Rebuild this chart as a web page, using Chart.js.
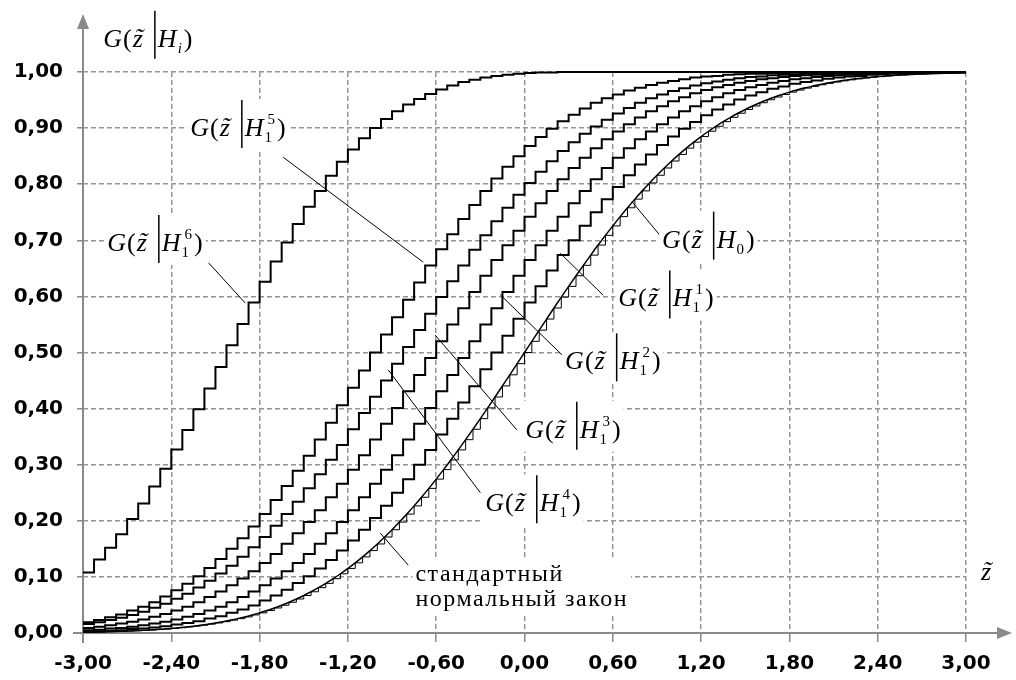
<!DOCTYPE html>
<html>
<head>
<meta charset="utf-8">
<script src="https://cdn.jsdelivr.net/npm/chart.js@4.4.1/dist/chart.umd.min.js"></script>
<style>
  html, body { margin: 0; padding: 0; background: #fff; }
  #wrap { width: 1016px; height: 680px; }
</style>
</head>
<body>
<div id="wrap"><canvas id="chart"></canvas></div>
<script>
// tick values of both axes
const xTicks = [-3, -2.4, -1.8, -1.2, -0.6, 0, 0.6, 1.2, 1.8, 2.4, 3];
const yTicks = [0, 0.1, 0.2, 0.3, 0.4, 0.5, 0.6, 0.7, 0.8, 0.9, 1];

// x positions of the steps of the H1 curves
const zSteps = [
  -3, -2.925, -2.85, -2.775, -2.7, -2.625, -2.55, -2.475, -2.4, -2.325,
  -2.25, -2.175, -2.1, -2.025, -1.95, -1.875, -1.8, -1.725, -1.65, -1.575,
  -1.5, -1.425, -1.35, -1.275, -1.2, -1.125, -1.05, -0.975, -0.9, -0.825,
  -0.75, -0.675, -0.6, -0.525, -0.45, -0.375, -0.3, -0.225, -0.15, -0.075,
  0, 0.075, 0.15, 0.225, 0.3, 0.375, 0.45, 0.525, 0.6, 0.675,
  0.75, 0.825, 0.9, 0.975, 1.05, 1.125, 1.2, 1.275, 1.35, 1.425,
  1.5, 1.575, 1.65, 1.725, 1.8, 1.875, 1.95, 2.025, 2.1, 2.175,
  2.25, 2.325, 2.4, 2.475, 2.55, 2.625, 2.7, 2.775, 2.85, 2.925,
  3
];

// x positions for the standard normal law and the H0 steps
const zFine = [
  -3, -2.95, -2.9, -2.85, -2.8, -2.75, -2.7, -2.65, -2.6, -2.55,
  -2.5, -2.45, -2.4, -2.35, -2.3, -2.25, -2.2, -2.15, -2.1, -2.05,
  -2, -1.95, -1.9, -1.85, -1.8, -1.75, -1.7, -1.65, -1.6, -1.55,
  -1.5, -1.45, -1.4, -1.35, -1.3, -1.25, -1.2, -1.15, -1.1, -1.05,
  -1, -0.95, -0.9, -0.85, -0.8, -0.75, -0.7, -0.65, -0.6, -0.55,
  -0.5, -0.45, -0.4, -0.35, -0.3, -0.25, -0.2, -0.15, -0.1, -0.05,
  0, 0.05, 0.1, 0.15, 0.2, 0.25, 0.3, 0.35, 0.4, 0.45,
  0.5, 0.55, 0.6, 0.65, 0.7, 0.75, 0.8, 0.85, 0.9, 0.95,
  1, 1.05, 1.1, 1.15, 1.2, 1.25, 1.3, 1.35, 1.4, 1.45,
  1.5, 1.55, 1.6, 1.65, 1.7, 1.75, 1.8, 1.85, 1.9, 1.95,
  2, 2.05, 2.1, 2.15, 2.2, 2.25, 2.3, 2.35, 2.4, 2.45,
  2.5, 2.55, 2.6, 2.65, 2.7, 2.75, 2.8, 2.85, 2.9, 2.95,
  3
];

// standard normal law (also the H0 staircase)
const normalCdf = [
  .0013, .0016, .0019, .0022, .0026, .0030, .0035, .0040, .0047, .0054,
  .0062, .0071, .0082, .0094, .0107, .0122, .0139, .0158, .0179, .0202,
  .0228, .0256, .0287, .0322, .0359, .0401, .0446, .0495, .0548, .0606,
  .0668, .0735, .0808, .0885, .0968, .1056, .1151, .1251, .1357, .1469,
  .1587, .1711, .1841, .1977, .2119, .2266, .2420, .2578, .2743, .2912,
  .3085, .3264, .3446, .3632, .3821, .4013, .4207, .4404, .4602, .4801,
  .5000, .5199, .5398, .5596, .5793, .5987, .6179, .6368, .6554, .6736,
  .6915, .7088, .7257, .7422, .7580, .7734, .7881, .8023, .8159, .8289,
  .8413, .8531, .8643, .8749, .8849, .8944, .9032, .9115, .9192, .9265,
  .9332, .9394, .9452, .9505, .9554, .9599, .9641, .9678, .9713, .9744,
  .9772, .9798, .9821, .9842, .9861, .9878, .9893, .9906, .9918, .9929,
  .9938, .9946, .9953, .9960, .9965, .9970, .9974, .9978, .9981, .9984,
  .9987
];

const gH1_1 = [
  .003, .003, .004, .005, .007, .008, .010, .012, .015, .018,
  .021, .026, .030, .036, .042, .049, .058, .067, .077, .089,
  .101, .115, .130, .147, .165, .184, .205, .227, .250, .274,
  .300, .326, .354, .382, .411, .440, .470, .500, .530, .560,
  .589, .618, .646, .674, .700, .726, .750, .773, .795, .816,
  .835, .853, .870, .885, .899, .911, .923, .933, .942, .951,
  .958, .964, .970, .974, .979, .982, .985, .988, .990, .992,
  .993, .995, .996, .997, .997, .998, .998, .999, .999, .999,
  .999
];

const gH1_2 = [
  .005, .006, .008, .009, .011, .014, .017, .020, .024, .029,
  .034, .040, .047, .055, .064, .074, .085, .097, .110, .125,
  .141, .159, .178, .198, .219, .242, .266, .291, .317, .345,
  .373, .401, .431, .460, .490, .520, .550, .579, .608, .637,
  .665, .691, .717, .742, .766, .788, .809, .829, .847, .864,
  .880, .894, .907, .919, .930, .939, .948, .955, .962, .968,
  .973, .977, .981, .984, .987, .989, .991, .993, .994, .995,
  .996, .997, .998, .998, .999, .999, .999, .999, .999, 1,
  1
];

const gH1_3 = [
  .009, .011, .014, .017, .020, .024, .029, .034, .040, .047,
  .055, .064, .074, .085, .097, .110, .125, .141, .159, .178,
  .198, .219, .242, .266, .291, .317, .345, .373, .401, .431,
  .460, .490, .520, .550, .579, .608, .637, .665, .691, .717,
  .742, .766, .788, .809, .829, .847, .864, .880, .894, .907,
  .919, .930, .939, .948, .955, .962, .968, .973, .977, .981,
  .984, .987, .989, .991, .993, .994, .995, .996, .997, .998,
  .998, .999, .999, .999, .999, .999, 1, 1, 1, 1,
  1
];

const gH1_4 = [
  .016, .019, .023, .027, .032, .038, .045, .052, .061, .070,
  .081, .093, .106, .120, .136, .153, .171, .191, .212, .234,
  .258, .283, .309, .335, .363, .392, .421, .450, .480, .510,
  .540, .569, .599, .627, .655, .683, .709, .734, .758, .781,
  .802, .822, .841, .859, .875, .890, .903, .915, .926, .936,
  .945, .953, .960, .966, .971, .976, .980, .983, .986, .989,
  .991, .992, .994, .995, .996, .997, .997, .998, .998, .999,
  .999, .999, .999, 1, 1, 1, 1, 1, 1, 1,
  1
];

const gH1_5 = [
  .019, .023, .028, .033, .040, .047, .055, .065, .076, .088,
  .101, .116, .132, .150, .169, .190, .212, .237, .262, .289,
  .316, .345, .375, .406, .437, .468, .500, .532, .563, .594,
  .625, .655, .684, .711, .738, .763, .788, .810, .831, .850,
  .868, .884, .899, .912, .924, .935, .945, .953, .960, .967,
  .972, .977, .981, .984, .987, .990, .992, .993, .995, .996,
  .997, .997, .998, .998, .999, .999, .999, .999, 1, 1,
  1, 1, 1, 1, 1, 1, 1, 1, 1, 1,
  1
];

const gH1_6 = [
  .108, .131, .152, .176, .203, .231, .261, .293, .327, .362,
  .399, .436, .474, .513, .551, .589, .626, .662, .696, .729,
  .760, .788, .815, .840, .862, .882, .900, .916, .930, .942,
  .952, .961, .969, .976, .982, .986, .990, .993, .995, .997,
  .998, .999, .999, 1, 1, 1, 1, 1, 1, 1,
  1, 1, 1, 1, 1, 1, 1, 1, 1, 1,
  1, 1, 1, 1, 1, 1, 1, 1, 1, 1,
  1, 1, 1, 1, 1, 1, 1, 1, 1, 1,
  1
];

// curve labels: anchor (left edge, baseline) in axis units
const curveLabels = [
  { x: -2.862, y: 1.045, sub: 'i', italicSub: true, bg: false },
  { x: -2.271, y: 0.886, sub: '1', sup: '5', bg: true },
  { x: -2.835, y: 0.681, sub: '1', sup: '6', bg: true },
  { x: 0.935, y: 0.687, sub: '0', bg: true },
  { x: 0.637, y: 0.582, sub: '1', sup: '1', bg: true },
  { x: 0.276, y: 0.470, sub: '1', sup: '2', bg: true },
  { x: 0.005, y: 0.348, sub: '1', sup: '3', bg: true },
  { x: -0.267, y: 0.217, sub: '1', sup: '4', bg: true }
];

// leader lines from labels to curves, in axis units
const leaders = [
  [-1.639, 0.848, -0.688, 0.661],
  [-2.147, 0.660, -1.897, 0.588],
  [0.920, 0.709, 0.730, 0.769],
  [0.535, 0.602, 0.243, 0.677],
  [0.254, 0.496, -0.165, 0.603],
  [-0.052, 0.362, -0.607, 0.531],
  [-0.300, 0.250, -0.926, 0.469],
  [-0.790, 0.121, -0.980, 0.178]
];

const normalText = ['стандартный', 'нормальный закон'];

const SERIF = '"Liberation Serif", "Times New Roman", serif';
const AXIS = '#8a8a8a';
const GRID = '#959595';
const FS = 26;
const FS_SMALL = 15;

function pts(xs, ys) {
  return ys.map((y, i) => ({ x: xs[i], y: y }));
}

function fmt(v) {
  return Number(v).toFixed(2).replace('.', ',');
}

function drawG(ctx, x, base, lab) {
  const it = 'italic ' + FS + 'px ' + SERIF;
  const up = FS + 'px ' + SERIF;
  const sm = (lab.italicSub ? 'italic ' : '') + FS_SMALL + 'px ' + SERIF;
  const smUp = FS_SMALL + 'px ' + SERIF;
  ctx.font = it;
  const wG = ctx.measureText('G').width;
  const wz = ctx.measureText('z').width;
  const wH = ctx.measureText('H').width;
  const wt = ctx.measureText('˜').width;
  ctx.font = up;
  const wp = ctx.measureText('(').width;
  ctx.font = sm;
  const wsub = ctx.measureText(lab.sub).width;
  ctx.font = smUp;
  const wsup = lab.sup ? ctx.measureText(lab.sup).width : 0;

  const xParen = x + wG + 1;
  const xz = xParen + wp + 1;
  const xBar = xz + wz + 12;
  const xH = xBar + 3;
  const xSub = xH + wH + 1;
  const xSup = xSub + 3;
  const xClose = Math.max(xSub + wsub, xSup + wsup) + 2;
  const xEnd = xClose + wp;

  if (lab.bg) {
    ctx.fillStyle = '#fff';
    ctx.fillRect(x - 3, base - 37, xEnd - x + 6, 51);
  }
  ctx.fillStyle = '#000';
  ctx.textAlign = 'left';
  ctx.textBaseline = 'alphabetic';
  ctx.font = it;
  ctx.fillText('G', x, base);
  ctx.fillText('z', xz, base);
  ctx.fillText('˜', xz + (wz - wt) / 2 + 1, base - 1);
  ctx.fillText('H', xH, base);
  ctx.font = up;
  ctx.fillText('(', xParen, base);
  ctx.fillText(')', xClose, base);
  ctx.font = sm;
  ctx.fillText(lab.sub, xSub, base + 6);
  if (lab.sup) {
    ctx.font = smUp;
    ctx.fillText(lab.sup, xSup, base - 12);
  }
  ctx.beginPath();
  ctx.moveTo(xBar, base - 36);
  ctx.lineTo(xBar, base + 12);
  ctx.lineWidth = 1.5;
  ctx.strokeStyle = '#000';
  ctx.stroke();
}

const decor = {
  id: 'decor',
  beforeDatasetsDraw(chart) {
    const ctx = chart.ctx;
    const a = chart.chartArea;
    ctx.save();
    ctx.strokeStyle = AXIS;
    ctx.fillStyle = AXIS;
    ctx.lineWidth = 2;
    // y axis with arrow
    ctx.beginPath();
    ctx.moveTo(a.left, a.bottom + 10);
    ctx.lineTo(a.left, 26);
    ctx.stroke();
    ctx.beginPath();
    ctx.moveTo(a.left, 14);
    ctx.lineTo(a.left - 6, 29);
    ctx.lineTo(a.left + 6, 29);
    ctx.closePath();
    ctx.fill();
    // x axis with arrow
    ctx.beginPath();
    ctx.moveTo(a.left - 10, a.bottom);
    ctx.lineTo(1000, a.bottom);
    ctx.stroke();
    ctx.beginPath();
    ctx.moveTo(1012, a.bottom);
    ctx.lineTo(997, a.bottom - 6);
    ctx.lineTo(997, a.bottom + 6);
    ctx.closePath();
    ctx.fill();
    ctx.restore();
  },
  afterDatasetsDraw(chart) {
    const ctx = chart.ctx;
    const sx = chart.scales.x;
    const sy = chart.scales.y;
    ctx.save();
    // leader lines
    ctx.strokeStyle = '#000';
    ctx.lineWidth = 1;
    leaders.forEach(l => {
      ctx.beginPath();
      ctx.moveTo(sx.getPixelForValue(l[0]), sy.getPixelForValue(l[1]));
      ctx.lineTo(sx.getPixelForValue(l[2]), sy.getPixelForValue(l[3]));
      ctx.stroke();
    });
    // G(z|H) labels
    curveLabels.forEach(lab => {
      drawG(ctx, sx.getPixelForValue(lab.x), sy.getPixelForValue(lab.y), lab);
    });
    // text for the standard normal law
    const tx = sx.getPixelForValue(-0.741);
    const b1 = sy.getPixelForValue(0.093);
    const b2 = sy.getPixelForValue(0.048);
    ctx.font = '24px ' + SERIF;
    ctx.letterSpacing = '1.5px';
    const w = Math.max(ctx.measureText(normalText[0]).width, ctx.measureText(normalText[1]).width);
    ctx.fillStyle = '#fff';
    ctx.fillRect(tx - 3, b1 - 21, w + 6, b2 - b1 + 28);
    ctx.fillStyle = '#000';
    ctx.textAlign = 'left';
    ctx.textBaseline = 'alphabetic';
    ctx.fillText(normalText[0], tx, b1);
    ctx.fillText(normalText[1], tx, b2);
    ctx.letterSpacing = '0px';
    // axis name z~
    const zx = sx.getPixelForValue(3.102);
    const zb = sy.getPixelForValue(0.094);
    ctx.font = 'italic ' + FS + 'px ' + SERIF;
    const wz = ctx.measureText('z').width;
    const wt = ctx.measureText('˜').width;
    ctx.fillText('z', zx, zb);
    ctx.fillText('˜', zx + (wz - wt) / 2 + 1, zb - 1);
    ctx.restore();
  }
};

const stair = { borderColor: '#000', borderWidth: 2, pointRadius: 0, stepped: true, fill: false, clip: 6 };

const tickFont = { family: '"DejaVu Sans", Verdana, sans-serif', size: 20, weight: 'bold' };

new Chart(document.getElementById('chart'), {
  type: 'line',
  data: {
    datasets: [
      Object.assign({ label: 'H1^6', data: pts(zSteps, gH1_6) }, stair),
      Object.assign({ label: 'H1^5', data: pts(zSteps, gH1_5) }, stair),
      Object.assign({ label: 'H1^4', data: pts(zSteps, gH1_4) }, stair),
      Object.assign({ label: 'H1^3', data: pts(zSteps, gH1_3) }, stair),
      Object.assign({ label: 'H1^2', data: pts(zSteps, gH1_2) }, stair),
      Object.assign({ label: 'H1^1', data: pts(zSteps, gH1_1) }, stair),
      Object.assign({ label: 'H0', data: pts(zFine, normalCdf) }, stair, { borderWidth: 1 }),
      { label: 'normal', data: pts(zFine, normalCdf), borderColor: '#000', borderWidth: 1.5,
        pointRadius: 0, cubicInterpolationMode: 'monotone', fill: false, clip: 6 }
    ]
  },
  options: {
    responsive: true,
    maintainAspectRatio: false,
    animation: false,
    events: [],
    layout: { padding: { left: 0, right: 50, top: 72, bottom: 0 } },
    plugins: { legend: { display: false }, tooltip: { enabled: false } },
    scales: {
      x: {
        type: 'linear',
        min: -3,
        max: 3,
        afterBuildTicks: s => { s.ticks = xTicks.map(v => ({ value: v })); },
        afterFit: s => { s.height = 47; },
        ticks: { callback: v => fmt(v), font: tickFont, color: '#000', padding: 10, maxRotation: 0, autoSkip: false },
        grid: { color: GRID, lineWidth: 1.5, tickLength: 9, tickColor: AXIS, tickWidth: 1.5 },
        border: { display: false, dash: [5, 3] }
      },
      y: {
        min: 0,
        max: 1,
        afterBuildTicks: s => { s.ticks = yTicks.map(v => ({ value: v })); },
        afterFit: s => { s.width = 83; },
        ticks: { callback: v => fmt(v), font: tickFont, color: '#000', padding: 14 },
        grid: { color: GRID, lineWidth: 1.5, tickLength: 6, tickColor: AXIS, tickWidth: 1.5 },
        border: { display: false, dash: [5, 3] }
      }
    }
  },
  plugins: [decor]
});
</script>
</body>
</html>
